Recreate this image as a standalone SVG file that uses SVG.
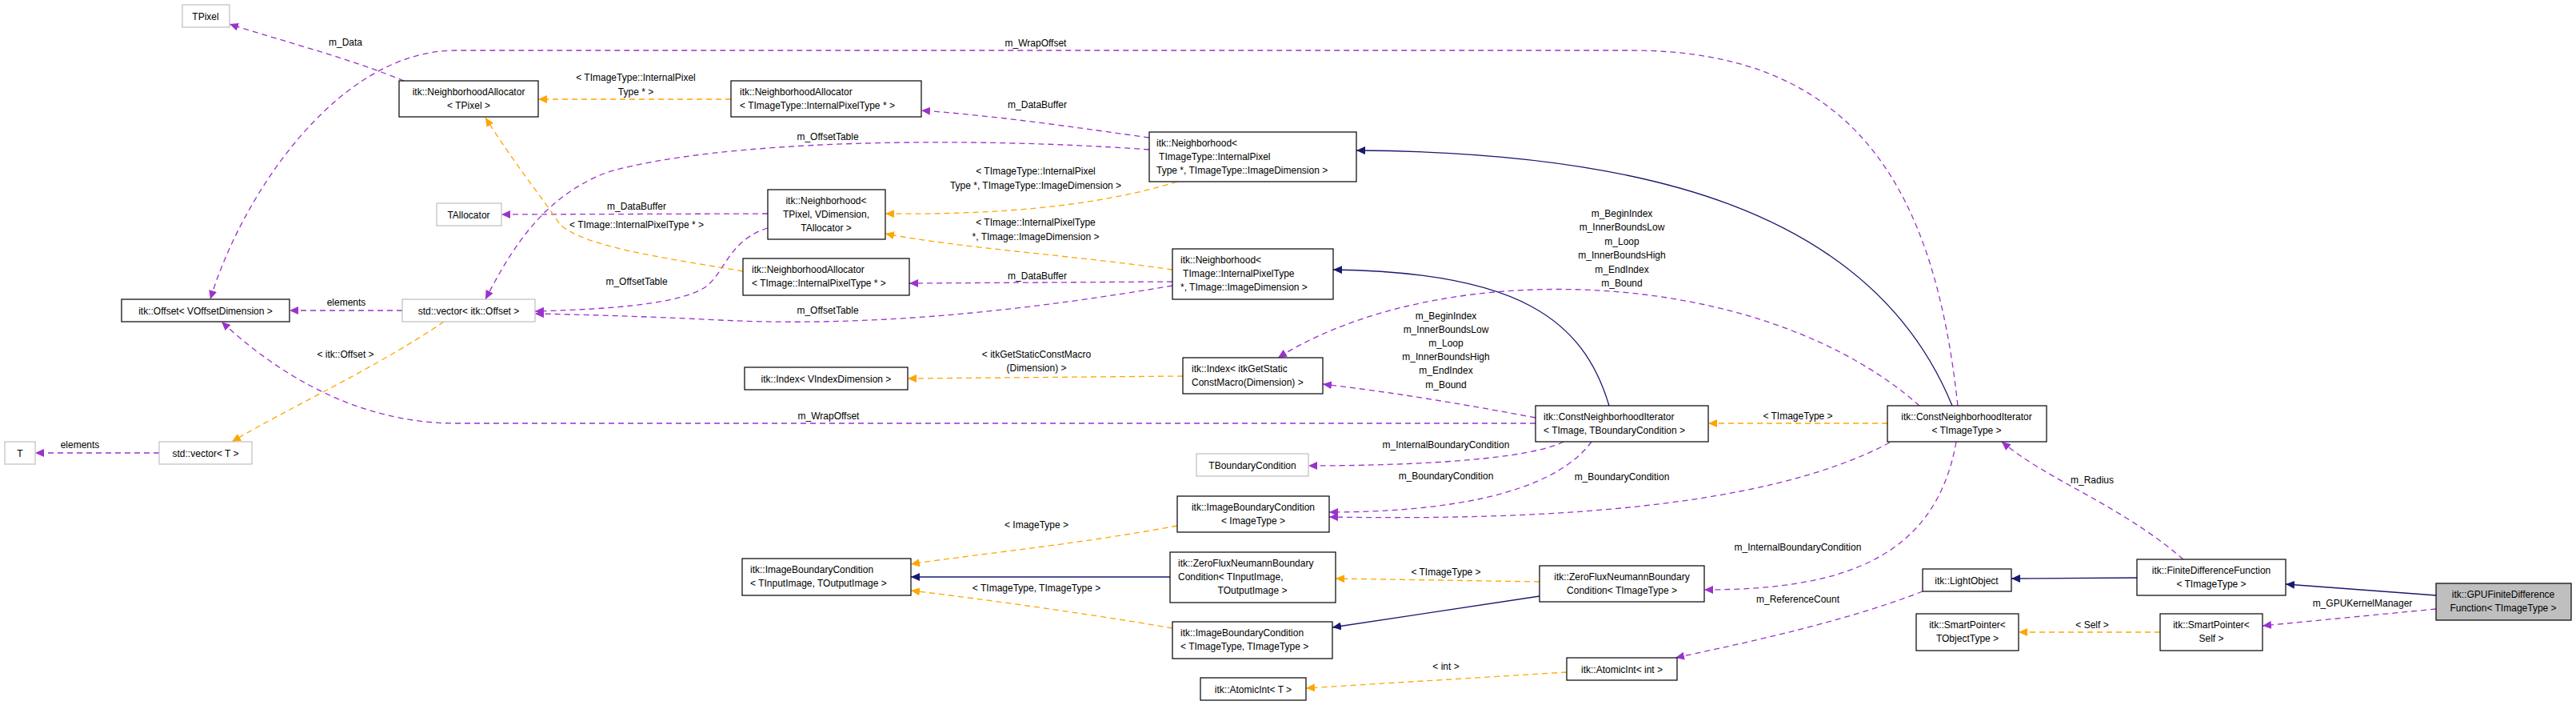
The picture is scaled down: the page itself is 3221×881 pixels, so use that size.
<svg xmlns="http://www.w3.org/2000/svg" width="3221" height="881" viewBox="0 0 3221 881">
<style>
text{font-family:"Liberation Sans",Arial,sans-serif;font-size:12px;fill:#000}
.c{text-anchor:middle}
.n rect{fill:#fff;stroke:#000;stroke-width:1.2}
.g rect{fill:#fff;stroke:#bfbfbf;stroke-width:1.2}
.p{fill:none;stroke:#9a32cd;stroke-width:1.3;stroke-dasharray:7,5;marker-end:url(#mp)}
.o{fill:none;stroke:#ffa500;stroke-width:1.3;stroke-dasharray:7,5;marker-end:url(#mo)}
.b{fill:none;stroke:#191970;stroke-width:1.3;marker-end:url(#mb)}
</style>
<defs>
<marker id="mp" markerUnits="userSpaceOnUse" markerWidth="12" markerHeight="10" refX="11" refY="5" orient="auto"><path d="M0,0 L11,5 L0,10 z" fill="#9a32cd"/></marker>
<marker id="mo" markerUnits="userSpaceOnUse" markerWidth="12" markerHeight="10" refX="11" refY="5" orient="auto"><path d="M0,0 L11,5 L0,10 z" fill="#ffa500"/></marker>
<marker id="mb" markerUnits="userSpaceOnUse" markerWidth="12" markerHeight="10" refX="11" refY="5" orient="auto"><path d="M0,0 L11,5 L0,10 z" fill="#191970"/></marker>
</defs>
<rect width="3221" height="881" fill="#fff"/>
<g id="edges">
<path class="p" d="M505,101 C430,70 330,45 287,30"/>
<path class="o" d="M914,124 L673,124"/>
<path class="p" d="M1437,172 C1350,160 1250,145 1152,138"/>
<path class="p" d="M1437,187 C1200,170 900,175 760,215 C680,245 640,310 607,374"/>
<path class="o" d="M1472,227 C1350,265 1200,268 1107,267"/>
<path class="p" d="M960,267 L627,268"/>
<path class="p" d="M960,285 C910,300 905,345 880,360 C850,378 780,386 669,389"/>
<path class="o" d="M929,339 C850,325 730,310 700,280 C680,250 640,200 607,147"/>
<path class="o" d="M1466,337 C1350,320 1200,310 1107,292"/>
<path class="p" d="M1466,352 L1137,354"/>
<path class="p" d="M1466,357 C1300,385 1100,410 900,400 C800,395 720,393 669,392"/>
<path class="p" d="M503,388 L362,388"/>
<path class="o" d="M555,402 C470,460 360,510 290,552"/>
<path class="p" d="M199,566 L44,566"/>
<path class="b" d="M2012,507 C1980,400 1900,340 1667,337"/>
<path class="b" d="M2441,507 C2340,260 2050,190 1696,188"/>
<path class="o" d="M2360,529 L2136,529"/>
<path class="p" d="M1920,522 C1830,505 1740,490 1654,480"/>
<path class="p" d="M2400,507 C2200,330 1800,320 1598,447"/>
<path class="o" d="M1479,470 L1135,473"/>
<path class="p" d="M1920,529 L570,529 C450,529 350,470 277,402"/>
<path class="p" d="M1955,552 C1900,580 1700,582 1636,582"/>
<path class="p" d="M1990,552 C1940,620 1800,640 1662,640"/>
<path class="p" d="M2363,553 C2200,640 1900,650 1662,646"/>
<path class="o" d="M1472,657 C1350,680 1200,695 1139,705"/>
<path class="b" d="M1463,721 L1139,721"/>
<path class="o" d="M1466,785 C1350,765 1200,745 1139,738"/>
<path class="o" d="M1925,727 L1670,723"/>
<path class="b" d="M1925,745 L1666,784"/>
<path class="p" d="M2446,552 C2420,700 2300,737 2131,737"/>
<path class="p" d="M2404,739 C2300,780 2150,810 2095,822"/>
<path class="o" d="M1959,840 L1633,860"/>
<path class="b" d="M2672,722 L2515,723"/>
<path class="p" d="M2730,699 C2650,630 2560,600 2503,552"/>
<path class="b" d="M3046,744 L2858,730"/>
<path class="p" d="M3046,761 L2829,782"/>
<path class="o" d="M2701,790 L2524,790"/>
<path class="p" d="M2448,507 C2420,250 2330,63 2040,63 L570,63 C420,63 300,250 263,374"/>
<text class="c" x="432" y="57">m_Data</text>
<text class="c" x="795" y="101">&lt; TImageType::InternalPixel</text>
<text class="c" x="795" y="119">Type * &gt;</text>
<text class="c" x="1295" y="58">m_WrapOffset</text>
<text class="c" x="1297" y="135">m_DataBuffer</text>
<text class="c" x="1035" y="175">m_OffsetTable</text>
<text class="c" x="1295" y="218">&lt; TImageType::InternalPixel</text>
<text class="c" x="1295" y="236">Type *, TImageType::ImageDimension &gt;</text>
<text class="c" x="796" y="262">m_DataBuffer</text>
<text class="c" x="796" y="285">&lt; TImage::InternalPixelType * &gt;</text>
<text class="c" x="1295" y="282">&lt; TImage::InternalPixelType</text>
<text class="c" x="1295" y="300">*, TImage::ImageDimension &gt;</text>
<text class="c" x="1297" y="349">m_DataBuffer</text>
<text class="c" x="796" y="356">m_OffsetTable</text>
<text class="c" x="1035" y="392">m_OffsetTable</text>
<text class="c" x="433" y="382">elements</text>
<text class="c" x="432" y="447">&lt; itk::Offset &gt;</text>
<text class="c" x="100" y="560">elements</text>
<text class="c" x="2028" y="271">m_BeginIndex</text>
<text class="c" x="2028" y="288">m_InnerBoundsLow</text>
<text class="c" x="2028" y="306">m_Loop</text>
<text class="c" x="2028" y="323">m_InnerBoundsHigh</text>
<text class="c" x="2028" y="341">m_EndIndex</text>
<text class="c" x="2028" y="358">m_Bound</text>
<text class="c" x="1808" y="399">m_BeginIndex</text>
<text class="c" x="1808" y="416">m_InnerBoundsLow</text>
<text class="c" x="1808" y="433">m_Loop</text>
<text class="c" x="1808" y="450">m_InnerBoundsHigh</text>
<text class="c" x="1808" y="467">m_EndIndex</text>
<text class="c" x="1808" y="485">m_Bound</text>
<text class="c" x="1296" y="447">&lt; itkGetStaticConstMacro</text>
<text class="c" x="1296" y="464">(Dimension) &gt;</text>
<text class="c" x="1036" y="524">m_WrapOffset</text>
<text class="c" x="2248" y="524">&lt; TImageType &gt;</text>
<text class="c" x="1808" y="560">m_InternalBoundaryCondition</text>
<text class="c" x="1808" y="599">m_BoundaryCondition</text>
<text class="c" x="2028" y="600">m_BoundaryCondition</text>
<text class="c" x="2616" y="604">m_Radius</text>
<text class="c" x="1296" y="660">&lt; ImageType &gt;</text>
<text class="c" x="2248" y="688">m_InternalBoundaryCondition</text>
<text class="c" x="1808" y="719">&lt; TImageType &gt;</text>
<text class="c" x="1296" y="739">&lt; TImageType, TImageType &gt;</text>
<text class="c" x="2248" y="753">m_ReferenceCount</text>
<text class="c" x="2954" y="758">m_GPUKernelManager</text>
<text class="c" x="2616" y="785">&lt; Self &gt;</text>
<text class="c" x="1808" y="837">&lt; int &gt;</text>
</g>
<g id="TPixel" class="g"><rect x="228" y="6" width="59" height="28"/><text class="c" x="257" y="25">TPixel</text></g>
<g id="NA_TPixel" class="n"><rect x="499" y="101" width="174" height="45"/><text class="c" x="586" y="119">itk::NeighborhoodAllocator</text><text class="c" x="586" y="136">&lt; TPixel &gt;</text></g>
<g id="NA_TImageType" class="n"><rect x="914" y="101" width="238" height="45"/><text x="925" y="119">itk::NeighborhoodAllocator</text><text x="925" y="136">&lt; TImageType::InternalPixelType * &gt;</text></g>
<g id="Nbh_TImageType" class="n"><rect x="1437" y="165" width="259" height="62"/><text x="1446" y="183">itk::Neighborhood&lt;</text><text x="1446" y="200" xml:space="preserve"> TImageType::InternalPixel</text><text x="1446" y="217">Type *, TImageType::ImageDimension &gt;</text></g>
<g id="TAllocator" class="g"><rect x="546" y="254" width="81" height="28"/><text class="c" x="586" y="273">TAllocator</text></g>
<g id="Nbh_TPixel" class="n"><rect x="960" y="237" width="147" height="62"/><text class="c" x="1033" y="255">itk::Neighborhood&lt;</text><text class="c" x="1033" y="272">TPixel, VDimension,</text><text class="c" x="1033" y="289">TAllocator &gt;</text></g>
<g id="NA_TImage" class="n"><rect x="929" y="323" width="208" height="46"/><text x="940" y="341">itk::NeighborhoodAllocator</text><text x="940" y="358">&lt; TImage::InternalPixelType * &gt;</text></g>
<g id="Nbh_TImage" class="n"><rect x="1466" y="311" width="201" height="63"/><text x="1476" y="329">itk::Neighborhood&lt;</text><text x="1476" y="346" xml:space="preserve"> TImage::InternalPixelType</text><text x="1476" y="363">*, TImage::ImageDimension &gt;</text></g>
<g id="Offset" class="n"><rect x="152" y="374" width="210" height="28" style="stroke:#404040;stroke-width:1.6"/><text class="c" x="257" y="393">itk::Offset&lt; VOffsetDimension &gt;</text></g>
<g id="vecOffset" class="g"><rect x="503" y="374" width="166" height="28"/><text class="c" x="586" y="393">std::vector&lt; itk::Offset &gt;</text></g>
<g id="T" class="g"><rect x="6" y="552" width="38" height="28"/><text class="c" x="25" y="571">T</text></g>
<g id="vecT" class="g"><rect x="199" y="552" width="116" height="28"/><text class="c" x="257" y="571">std::vector&lt; T &gt;</text></g>
<g id="IndexStatic" class="n"><rect x="1479" y="447" width="175" height="45"/><text x="1490" y="465">itk::Index&lt; itkGetStatic</text><text x="1490" y="482">ConstMacro(Dimension) &gt;</text></g>
<g id="IndexV" class="n"><rect x="931" y="459" width="204" height="28"/><text class="c" x="1033" y="478">itk::Index&lt; VIndexDimension &gt;</text></g>
<g id="CNI_TBC" class="n"><rect x="1920" y="507" width="216" height="45"/><text x="1930" y="525">itk::ConstNeighborhoodIterator</text><text x="1930" y="542">&lt; TImage, TBoundaryCondition &gt;</text></g>
<g id="CNI" class="n"><rect x="2360" y="507" width="199" height="45"/><text class="c" x="2459" y="525">itk::ConstNeighborhoodIterator</text><text class="c" x="2459" y="542">&lt; TImageType &gt;</text></g>
<g id="TBoundaryCondition" class="g"><rect x="1496" y="567" width="140" height="28"/><text class="c" x="1566" y="586">TBoundaryCondition</text></g>
<g id="IBC_Image" class="n"><rect x="1472" y="620" width="190" height="45"/><text class="c" x="1567" y="638">itk::ImageBoundaryCondition</text><text class="c" x="1567" y="655">&lt; ImageType &gt;</text></g>
<g id="IBC_InOut" class="n"><rect x="928" y="698" width="211" height="46"/><text x="938" y="716">itk::ImageBoundaryCondition</text><text x="938" y="733">&lt; TInputImage, TOutputImage &gt;</text></g>
<g id="ZF_InOut" class="n"><rect x="1463" y="690" width="207" height="63"/><text x="1473" y="708">itk::ZeroFluxNeumannBoundary</text><text x="1473" y="725">Condition&lt; TInputImage,</text><text class="c" x="1566" y="742">TOutputImage &gt;</text></g>
<g id="ZF" class="n"><rect x="1925" y="707" width="206" height="45"/><text class="c" x="2028" y="725">itk::ZeroFluxNeumannBoundary</text><text class="c" x="2028" y="742">Condition&lt; TImageType &gt;</text></g>
<g id="IBC_TT" class="n"><rect x="1466" y="777" width="200" height="46"/><text x="1476" y="795">itk::ImageBoundaryCondition</text><text x="1476" y="812">&lt; TImageType, TImageType &gt;</text></g>
<g id="AtomicT" class="n"><rect x="1501" y="847" width="132" height="28"/><text class="c" x="1567" y="866">itk::AtomicInt&lt; T &gt;</text></g>
<g id="AtomicInt" class="n"><rect x="1959" y="822" width="138" height="28"/><text class="c" x="2028" y="841">itk::AtomicInt&lt; int &gt;</text></g>
<g id="LightObject" class="n"><rect x="2404" y="711" width="111" height="28"/><text class="c" x="2459" y="730">itk::LightObject</text></g>
<g id="FDF" class="n"><rect x="2672" y="699" width="186" height="45"/><text class="c" x="2765" y="717">itk::FiniteDifferenceFunction</text><text class="c" x="2765" y="734">&lt; TImageType &gt;</text></g>
<g id="GPU" class="n"><rect x="3046" y="729" width="169" height="46" style="fill:#bfbfbf"/><text class="c" x="3130" y="747">itk::GPUFiniteDifference</text><text class="c" x="3130" y="764">Function&lt; TImageType &gt;</text></g>
<g id="SP_T" class="n"><rect x="2396" y="767" width="128" height="46"/><text class="c" x="2460" y="785">itk::SmartPointer&lt;</text><text class="c" x="2460" y="802">TObjectType &gt;</text></g>
<g id="SP_Self" class="n"><rect x="2701" y="767" width="128" height="46"/><text class="c" x="2765" y="785">itk::SmartPointer&lt;</text><text class="c" x="2765" y="802">Self &gt;</text></g>
</svg>
